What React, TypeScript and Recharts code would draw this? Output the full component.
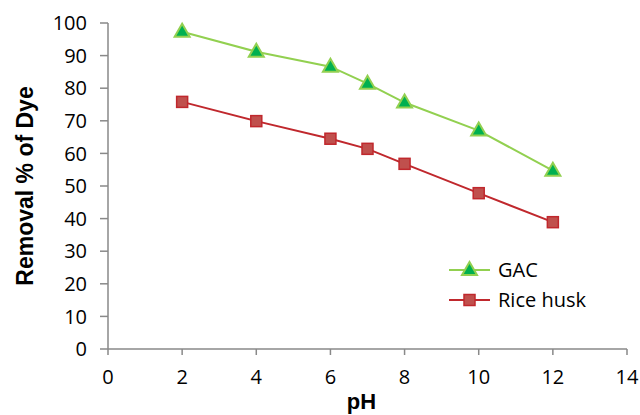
import React from 'react';
import { LineChart, Line, XAxis, YAxis, Label } from 'recharts';

const phValues = [2, 4, 6, 7, 8, 10, 12];
const gacValues = [97.3, 91.2, 86.6, 81.4, 75.6, 67.0, 54.7];
const riceHuskValues = [75.8, 69.9, 64.5, 61.4, 56.8, 47.8, 38.9];
const xTicks = [0, 2, 4, 6, 8, 10, 12, 14];
const yTicks = [0, 10, 20, 30, 40, 50, 60, 70, 80, 90, 100];
const seriesNames = ['GAC', 'Rice husk'];

const data = phValues.map((ph, i) => ({ ph, gac: gacValues[i], rice: riceHuskValues[i] }));

const FONT = '"Open Sans", sans-serif';
const BOLD_FONT = '"Liberation Sans", Arial, sans-serif';
const AXIS = '#898989';
const GREEN_LINE = '#92D050';
const GREEN_FILL = '#00B050';
const RED_LINE = '#C0282D';
const RED_FILL = '#C0504D';

const Triangle = (props: any) => {
  const { cx, cy, key } = props;
  if (cx == null || cy == null) return null;
  return (
    <path
      key={key}
      d={`M${cx},${cy - 8} L${cx + 7.5},${cy + 5} L${cx - 7.5},${cy + 5} Z`}
      fill={GREEN_FILL}
      stroke={GREEN_LINE}
      strokeWidth={2}
    />
  );
};

const Square = (props: any) => {
  const { cx, cy, key } = props;
  if (cx == null || cy == null) return null;
  return (
    <rect key={key} x={cx - 5.5} y={cy - 5.5} width={11} height={11} fill={RED_FILL} stroke={RED_LINE} strokeWidth={1.5} />
  );
};

const LegendBox = () => (
  <svg width={170} height={70} style={{ position: 'absolute', left: 448, top: 255 }}>
    <line x1={1} x2={42} y1={15} y2={15} stroke={GREEN_LINE} strokeWidth={2} />
    <path d="M21.5,7 L29,20 L14,20 Z" fill={GREEN_FILL} stroke={GREEN_LINE} strokeWidth={2} />
    <text x={50} y={22} fontFamily={FONT} fontSize={20} fill="#000">{seriesNames[0]}</text>
    <line x1={1} x2={42} y1={45} y2={45} stroke={RED_LINE} strokeWidth={2} />
    <rect x={16} y={39.5} width={11} height={11} fill={RED_FILL} stroke={RED_LINE} strokeWidth={1.5} />
    <text x={50} y={52} fontFamily={FONT} fontSize={20} fill="#000">{seriesNames[1]}</text>
  </svg>
);

export default function App() {
  return (
    <div style={{ position: 'absolute', left: 0, top: 0, width: 640, height: 415, background: '#fff' }}>
      <LineChart width={640} height={415} data={data} margin={{ top: 23, right: 13, left: 0, bottom: 0 }}>
        <XAxis
          dataKey="ph"
          type="number"
          domain={[0, 14]}
          ticks={xTicks}
          interval={0}
          height={66}
          tickSize={6}
          tickMargin={15}
          stroke={AXIS}
          strokeWidth={1.5}
          tick={{ fill: '#000', fontSize: 20, fontFamily: FONT }}
        >
          <Label
            content={(p: any) => (
              <text
                x={p.viewBox.x + p.viewBox.width / 2 - 6}
                y={409}
                textAnchor="middle"
                fontFamily={BOLD_FONT}
                fontWeight="bold"
                fontSize={22}
                fill="#000"
              >
                pH
              </text>
            )}
          />
        </XAxis>
        <YAxis
          type="number"
          domain={[0, 100]}
          ticks={yTicks}
          interval={0}
          width={108}
          tickSize={8}
          tickMargin={13}
          stroke={AXIS}
          strokeWidth={1.5}
          tick={{ fill: '#000', fontSize: 20, fontFamily: FONT }}
        >
          <Label
            content={(p: any) => {
              const cy = p.viewBox.y + p.viewBox.height / 2;
              return (
                <text
                  x={33}
                  y={cy}
                  transform={`rotate(-90, 33, ${cy})`}
                  textAnchor="middle"
                  fontFamily={BOLD_FONT}
                  fontWeight="bold"
                  fontSize={23}
                  fill="#000"
                >
                  Removal % of Dye
                </text>
              );
            }}
          />
        </YAxis>
        <Line
          dataKey="gac"
          name={seriesNames[0]}
          stroke={GREEN_LINE}
          strokeWidth={2}
          dot={Triangle}
          isAnimationActive={false}
        />
        <Line
          dataKey="rice"
          name={seriesNames[1]}
          stroke={RED_LINE}
          strokeWidth={2}
          dot={Square}
          isAnimationActive={false}
        />
      </LineChart>
      <LegendBox />
    </div>
  );
}
